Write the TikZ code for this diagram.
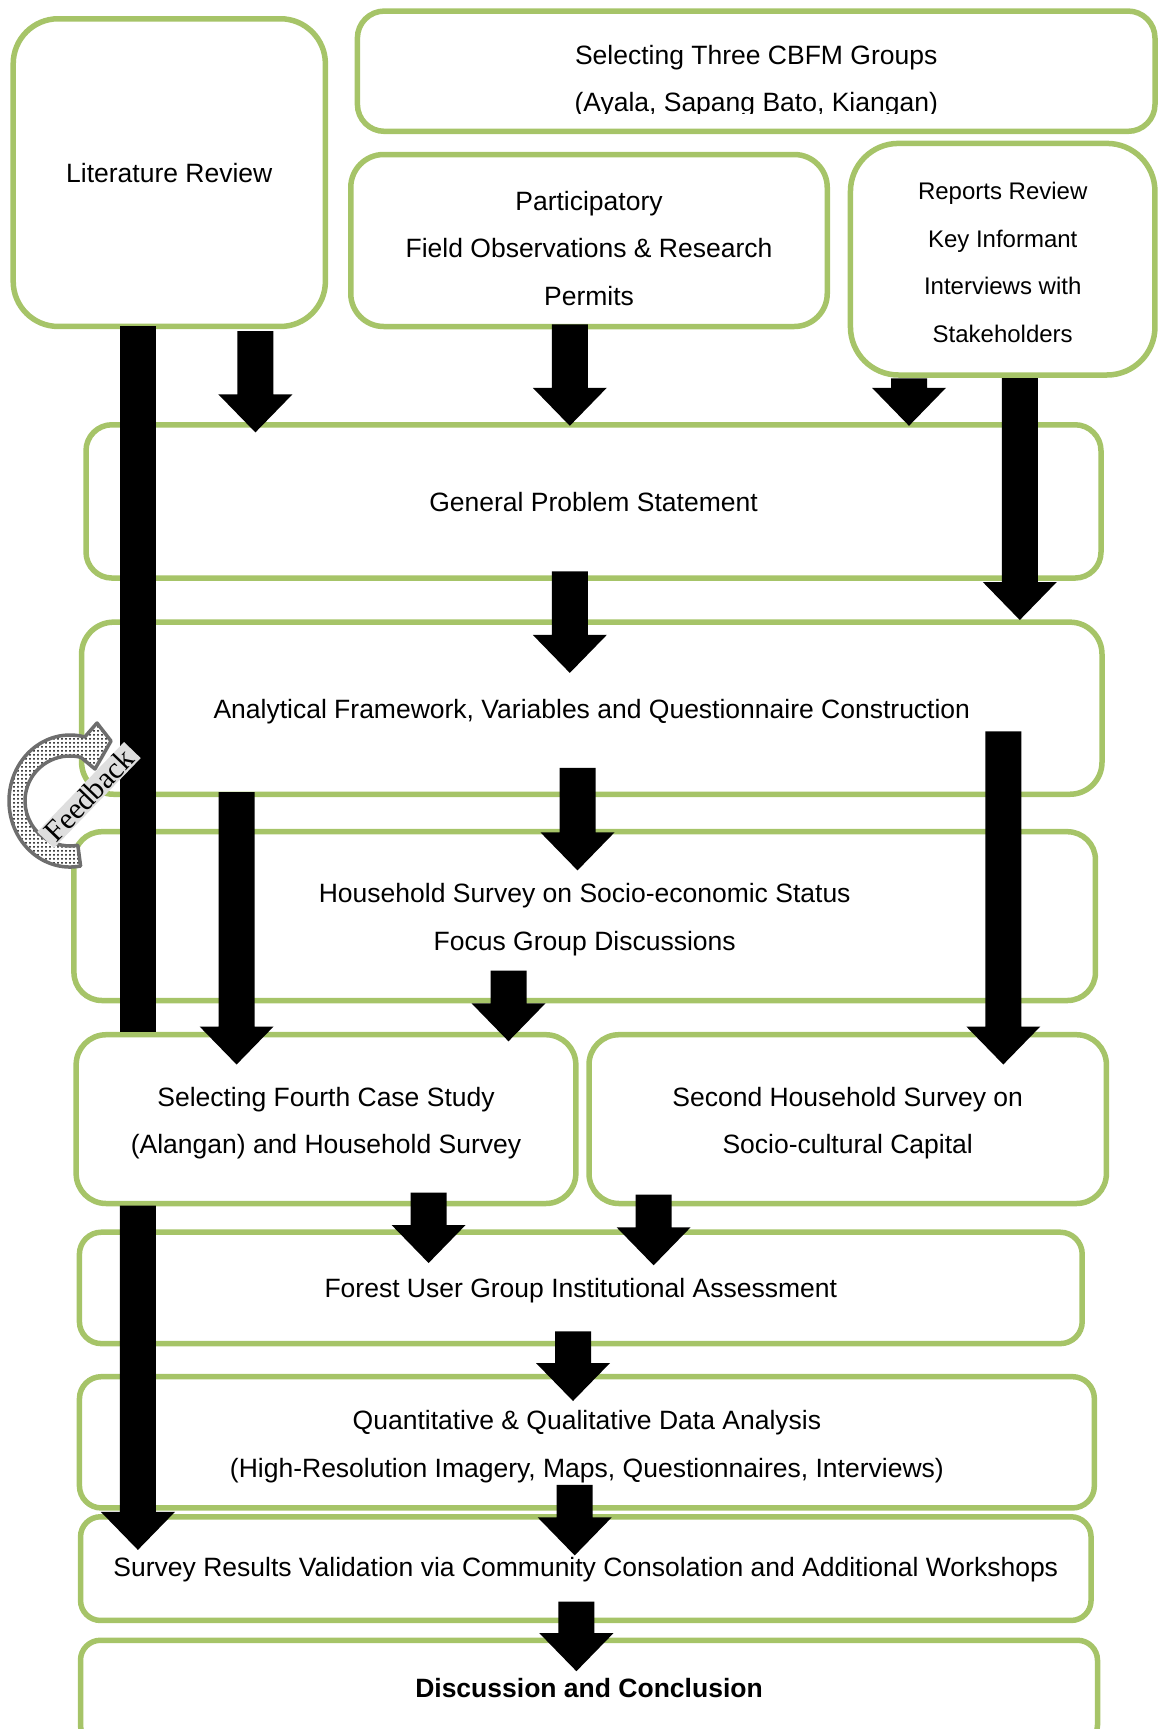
\documentclass[tikz,border=0pt]{standalone}
\usepackage{fontspec}
\setmainfont{Liberation Sans}
\newfontfamily\fbfont{Liberation Serif}
\usetikzlibrary{calc,patterns}

\definecolor{boxgreen}{RGB}{166,196,104}
\definecolor{fbgray}{RGB}{110,110,110}
\definecolor{fblabel}{RGB}{222,222,222}

% fine dot screen for the feedback arrow
\pgfdeclarepatternformonly{fbdots}{\pgfqpoint{-1pt}{-1pt}}{\pgfqpoint{5pt}{5pt}}{\pgfqpoint{4pt}{4pt}}%
  {\pgfpathcircle{\pgfqpoint{2pt}{2pt}}{1pt}\pgfusepath{fill}}

\tikzset{
  stage/.style={draw=boxgreen, line width=5.5pt, fill=white, rectangle, inner sep=0pt},
  txt/.style={align=center, inner sep=0pt, font=\fontsize{26.5}{47.5}\selectfont},
  smalltxt/.style={align=center, inner sep=0pt, font=\fontsize{24}{47.8}\selectfont},
  % thick block arrow: shaft from the start point, head ending at the target
  blockarrow/.style={fill=black, to path={let \p1=(\tikztostart), \p2=(\tikztotarget) in
     (\x1-18pt,\y1) -- (\x1-18pt,\y2+38pt) -- (\x1-37pt,\y2+38pt) -- (\x1,\y2)
     -- (\x1+37pt,\y2+38pt) -- (\x1+18pt,\y2+38pt) -- (\x1+18pt,\y1) -- cycle}},
  blockshaft/.style={fill=black, to path={let \p1=(\tikztostart), \p2=(\tikztotarget) in
     (\x1-18pt,\y1) rectangle (\x1+18pt,\y2)}},
}

\begin{document}
\begin{tikzpicture}[x=1pt,y=-1pt]
\useasboundingbox (0,0) rectangle (1166,1729);
\clip (0,0) rectangle (1166,1729);

% ---------- stages ----------
\node[stage, minimum width=312.2, minimum height=307.7, rounded corners=45] (lit) at (169.3,172.6) {};
\node[stage, minimum width=797.6, minimum height=120.3, rounded corners=27] (sel3) at (756.2,71.2) {};
\node[stage, minimum width=476.5, minimum height=172, rounded corners=33] (part) at (589,240.5) {};
\node[stage, minimum width=304.5, minimum height=231.6, rounded corners=48] (rep) at (1002.7,259.2) {};
\node[stage, minimum width=1015, minimum height=153.3, rounded corners=26] (gps) at (593.5,501.4) {};
\node[stage, minimum width=1020.4, minimum height=172.1, rounded corners=32] (afq) at (591.8,708.2) {};
\node[stage, minimum width=1021.5, minimum height=168.8, rounded corners=28] (hhs) at (584.7,916.1) {};
\node[stage, minimum width=499.7, minimum height=168.8, rounded corners=30] (sfc) at (326,1119.1) {};
\node[stage, minimum width=517.4, minimum height=168.8, rounded corners=30] (shs) at (847.7,1119.1) {};
\node[stage, minimum width=1002.8, minimum height=111.4, rounded corners=22] (fug) at (580.8,1287.9) {};
\node[stage, minimum width=1014.9, minimum height=131.3, rounded corners=22] (qda) at (586.9,1442.3) {};
\node[stage, minimum width=1010.5, minimum height=103.7, rounded corners=20] (srv) at (585.8,1568.6) {};
\node[stage, minimum width=1017, minimum height=104.7, rounded corners=20] (dis) at (589,1692.6) {};

% ---------- stage texts ----------
\node[txt] (litT) at (169.3,173.2) {Literature Review};
\begin{scope}
  \clip (300,0) rectangle (1166,113);
  \node[txt] (sel3T) at (756.2,81.1) {Selecting Three CBFM Groups\\(Ayala, Sapang Bato, Kiangan)};
\end{scope}
\node[txt] (partT) at (589,248.2) {Participatory\\Field Observations \& Research\\Permits};
\node[smalltxt] (repT) at (1002.7,262.5) {Reports Review\\Key Informant\\Interviews with\\Stakeholders};
\node[txt] (gpsT) at (593.5,502) {General Problem Statement};
\node[txt] (afqT) at (591.8,711.5) {Analytical Framework, Variables and Questionnaire Construction};
\node[txt] (hhsT) at (584.7,919.5) {Household Survey on Socio-economic Status\\Focus Group Discussions};
\node[txt] (sfcT) at (326,1123) {Selecting Fourth Case Study\\(Alangan) and Household Survey};
\node[txt] (shsT) at (847.7,1123) {Second Household Survey on\\Socio-cultural Capital};
\node[txt] (fugT) at (580.8,1290.6) {Forest User Group Institutional Assessment};
\node[txt] (qdaT) at (586.9,1446.7) {Quantitative \& Qualitative Data Analysis\\(High-Resolution Imagery, Maps, Questionnaires, Interviews)};
\node[txt] (srvT) at (585.8,1569.7) {Survey Results Validation via Community Consolation and Additional Workshops};
\node[txt, font=\fontsize{26.5}{47.5}\selectfont\bfseries] (disT) at (589,1687.7) {Discussion and Conclusion};

% ---------- arrow end points ----------
\coordinate (litA) at (255.4,331);   \coordinate (gpsA) at (255.4,432.4);
\coordinate (partA) at (569.8,324.3); \coordinate (gpsB) at (569.8,425.8);
\coordinate (repA) at (909,378.4);   \coordinate (gpsC) at (909,425.8);
\coordinate (repB) at (1019.8,378);  \coordinate (afqA) at (1019.8,620);
\coordinate (gpsD) at (569.8,571.4); \coordinate (afqB) at (569.8,672.9);
\coordinate (afqC) at (577.5,767.8); \coordinate (hhsA) at (577.5,870.4);
\coordinate (afqD) at (236.6,792);   \coordinate (sfcA) at (236.6,1064.5);
\coordinate (afqE) at (1003.3,731.4); \coordinate (shsA) at (1003.3,1064.5);
\coordinate (hhsB) at (508.5,970.7); \coordinate (sfcB) at (508.5,1041.3);
\coordinate (litB) at (137.9,326);   \coordinate (sfcC) at (137.9,1032);
\coordinate (sfcD) at (137.9,1205.7); \coordinate (srvA) at (137.9,1549.9);
\coordinate (sfcE) at (428.6,1192.5); \coordinate (fugA) at (428.6,1263);
\coordinate (shsB) at (653.6,1194.7); \coordinate (fugB) at (653.6,1265.3);
\coordinate (fugC) at (573,1331.4);  \coordinate (qdaA) at (573,1401);
\coordinate (qdaB) at (574.7,1484.8); \coordinate (srvB) at (574.7,1555.4);
\coordinate (srvC) at (576.4,1601.7); \coordinate (disA) at (576.4,1671.2);

% ---------- block arrows ----------
\fill[blockarrow] (litA) to (gpsA);
\fill[blockarrow] (partA) to (gpsB);
\fill[blockarrow] (repA) to (gpsC);
\fill[blockarrow] (repB) to (afqA);
\fill[blockarrow] (gpsD) to (afqB);
\fill[blockarrow] (afqC) to (hhsA);
\fill[blockarrow] (afqD) to (sfcA);
\fill[blockarrow] (afqE) to (shsA);
\fill[blockarrow] (hhsB) to (sfcB);
\fill[blockshaft] (litB) to (sfcC);
\fill[blockarrow] (sfcD) to (srvA);
\fill[blockarrow] (sfcE) to (fugA);
\fill[blockarrow] (shsB) to (fugB);
\fill[blockarrow] (fugC) to (qdaA);
\fill[blockarrow] (qdaB) to (srvB);
\fill[blockarrow] (srvC) to (disA);

% ---------- feedback loop arrow ----------
\begin{scope}[shift={(70,801)}]
\begin{scope}[y=1pt]
  \path[preaction={fill=white}, pattern=fbdots, pattern color=black,
        draw=fbgray, line width=3.5pt, line join=round]
    (10.6,-65.0) arc[start angle=-80, end angle=-284, x radius=61, y radius=66]
    -- (27,78) -- (41,60) -- (25,32) -- (10.9,43.7)
    arc[start angle=-284, end angle=-80, x radius=45, y radius=45] -- cycle;
\end{scope}
\end{scope}
\node[rotate=46, fill=fblabel, inner xsep=5pt, inner ysep=1pt,
      font=\fbfont\fontsize{30}{30}\selectfont] (fb) at (89,795) {Feedback};

\end{tikzpicture}
\end{document}
